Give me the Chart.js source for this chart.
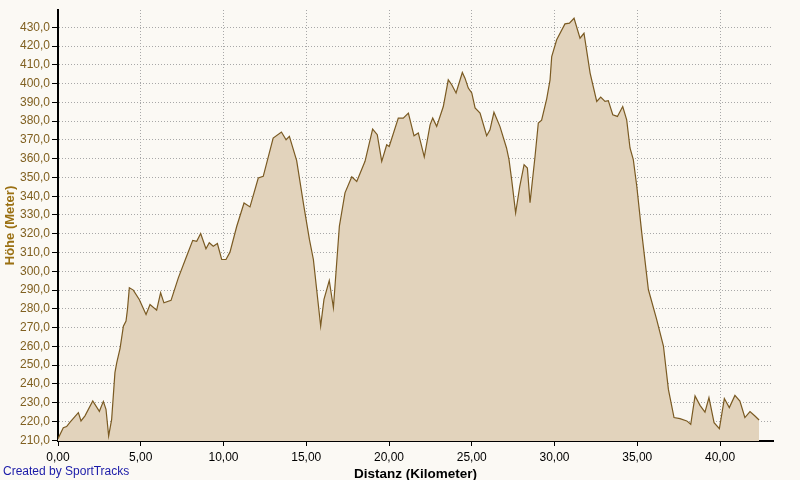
<!DOCTYPE html>
<html>
<head>
<meta charset="utf-8">
<script src="https://cdn.jsdelivr.net/npm/chart.js@4.4.1/dist/chart.umd.min.js"></script>
<style>
  html, body { margin: 0; padding: 0; background: #FBF9F4; }
  #wrap { width: 800px; height: 480px; position: relative; }
</style>
</head>
<body>
<div id="wrap"><canvas id="c" width="800" height="480"></canvas></div>
<script>
// Distance in km
const distanceKm = [
  0.0, 0.32, 0.52, 0.73, 1.23, 1.39, 1.63, 2.1, 2.5, 2.74, 2.9, 3.06, 3.24, 3.44, 3.55, 3.75, 3.95, 4.11, 4.2, 4.31,
  4.55, 4.91, 5.32, 5.56, 5.96, 6.2, 6.4, 6.83, 7.27, 7.77, 8.14, 8.38, 8.62, 8.94, 9.14, 9.38, 9.63, 9.89, 10.15, 10.39,
  10.8, 11.24, 11.6, 12.1, 12.4, 13.0, 13.5, 13.78, 13.98, 14.42, 14.85, 15.19, 15.43, 15.87, 16.07, 16.39, 16.64, 17.0, 17.34, 17.75,
  18.05, 18.55, 19.01, 19.29, 19.56, 19.86, 20.01, 20.56, 20.86, 21.17, 21.51, 21.77, 22.13, 22.48, 22.64, 22.88, 23.28, 23.58, 23.79, 24.05,
  24.43, 24.59, 24.79, 25.0, 25.2, 25.5, 25.9, 26.1, 26.34, 26.7, 27.1, 27.25, 27.41, 27.65, 27.9, 28.16, 28.36, 28.52, 28.82, 29.02,
  29.22, 29.53, 29.73, 29.83, 30.13, 30.63, 30.9, 31.18, 31.54, 31.78, 32.15, 32.55, 32.79, 33.05, 33.25, 33.52, 33.8, 34.12, 34.36, 34.56,
  34.76, 34.97, 35.27, 35.67, 36.17, 36.58, 36.88, 37.22, 37.58, 37.99, 38.23, 38.49, 38.79, 39.09, 39.33, 39.64, 39.96, 40.26, 40.56, 40.9,
  41.2, 41.5, 41.81, 42.11, 42.36
];
// Elevation in metres
const elevationM = [
  210.8, 216.7, 217.3, 219.7, 224.7, 220.3, 223.0, 230.9, 225.4, 230.7, 226.5, 212.3, 221.0, 246.0, 251.3, 259.0, 270.8, 273.5, 280.0, 291.2,
  290.0, 285.0, 277.0, 282.3, 279.3, 288.6, 283.2, 284.5, 296.5, 308.0, 316.5, 316.0, 320.1, 312.0, 315.2, 313.4, 314.8, 306.3, 306.3, 310.2,
  324.0, 336.4, 334.3, 349.7, 350.6, 371.0, 374.2, 370.1, 371.9, 359.0, 335.0, 317.0, 306.3, 270.8, 285.0, 295.1, 280.6, 324.0, 341.8, 350.3,
  347.9, 358.6, 375.8, 372.8, 358.6, 367.4, 366.5, 381.6, 381.6, 384.3, 372.2, 373.7, 360.9, 378.0, 381.6, 377.2, 387.8, 402.0, 399.4, 395.0,
  405.9, 402.9, 397.6, 395.0, 387.0, 384.3, 372.2, 375.4, 384.7, 377.2, 365.7, 359.5, 348.8, 331.1, 345.3, 356.8, 355.0, 336.6, 361.0, 379.0,
  380.5, 392.0, 402.0, 414.4, 423.3, 431.8, 432.2, 434.8, 424.2, 426.8, 405.6, 390.5, 392.8, 390.5, 390.9, 383.4, 382.5, 387.8, 380.7, 365.7,
  359.5, 345.3, 320.5, 290.3, 274.4, 260.2, 237.1, 222.1, 221.5, 220.3, 218.5, 233.6, 228.6, 225.0, 232.7, 219.4, 216.2, 232.2, 227.4, 233.9,
  230.9, 222.1, 225.3, 222.9, 220.8
];
const xTitle = 'Distanz (Kilometer)';
const yTitle = 'Höhe (Meter)';
const creditText = 'Created by SportTracks';

const points = distanceKm.map((d, i) => ({ x: d, y: elevationM[i] }));

const bgPlugin = {
  id: 'bg',
  beforeDraw(chart) {
    const ctx = chart.ctx;
    ctx.save();
    ctx.fillStyle = '#FBF9F4';
    ctx.fillRect(0, 0, chart.width, chart.height);
    ctx.restore();
  },
  afterDraw(chart) {
    const ctx = chart.ctx;
    ctx.save();
    ctx.font = '12px "Liberation Sans", Arial, sans-serif';
    ctx.fillStyle = '#1A1AA8';
    ctx.textBaseline = 'alphabetic';
    ctx.textAlign = 'left';
    ctx.fillText(creditText, 3, 475);
    ctx.restore();
  }
};

new Chart(document.getElementById('c'), {
  type: 'line',
  data: {
    datasets: [{
      data: points,
      borderColor: '#7A5A22',
      borderWidth: 1.2,
      backgroundColor: '#E2D3BC',
      fill: 'start',
      pointRadius: 0,
      tension: 0
    }]
  },
  options: {
    responsive: false,
    animation: false,
    devicePixelRatio: 1,
    layout: { padding: { top: 10, right: 27, left: 0, bottom: 0 } },
    plugins: { legend: { display: false }, tooltip: { enabled: false } },
    scales: {
      x: {
        type: 'linear',
        min: 0,
        max: 43.2,
        afterFit(scale) { scale.height = 39; },
        ticks: {
          stepSize: 5,
          includeBounds: false,
          maxRotation: 0,
          autoSkip: false,
          padding: 4,
          color: '#000000',
          font: { family: '"Liberation Sans", Arial, sans-serif', size: 12 },
          callback: (v) => Number(v).toFixed(2).replace('.', ',')
        },
        grid: {
          color: '#A8A8A8',
          lineWidth: 1,
          tickLength: 5,
          tickColor: '#000000',
          tickWidth: 1,
          tickBorderDash: []
        },
        border: { display: true, color: '#000000', width: 2, dash: [1, 2] },
        title: {
          display: true,
          text: xTitle,
          color: '#000000',
          font: { family: '"Liberation Sans", Arial, sans-serif', size: 13.5, weight: 'bold' },
          padding: { top: 0, bottom: -2 }
        }
      },
      y: {
        type: 'linear',
        min: 209.6,
        max: 439.2,
        afterFit(scale) { scale.width = 58; },
        ticks: {
          stepSize: 10,
          includeBounds: false,
          autoSkip: false,
          padding: 2,
          color: '#806020',
          font: { family: '"Liberation Sans", Arial, sans-serif', size: 12 },
          callback: (v) => Number(v).toFixed(1).replace('.', ',')
        },
        grid: {
          color: '#A8A8A8',
          lineWidth: 1,
          tickLength: 6,
          tickColor: '#000000',
          tickWidth: 1,
          tickBorderDash: []
        },
        border: { display: true, color: '#000000', width: 2, dash: [1, 2] },
        title: {
          display: true,
          text: yTitle,
          color: '#9A7012',
          font: { family: '"Liberation Sans", Arial, sans-serif', size: 13, weight: 'bold' },
          padding: { top: 3, bottom: 0 }
        }
      }
    }
  },
  plugins: [bgPlugin]
});
</script>
</body>
</html>
